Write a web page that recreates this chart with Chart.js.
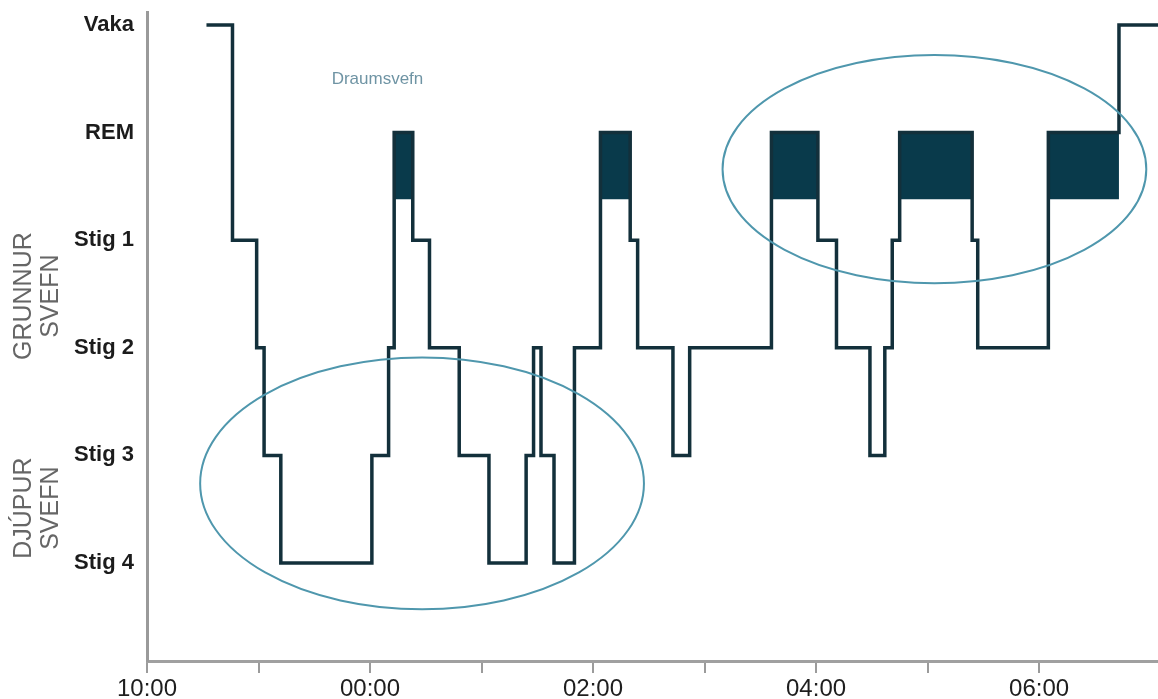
<!DOCTYPE html>
<html>
<head>
<meta charset="utf-8">
<script src="https://cdn.jsdelivr.net/npm/chart.js@4.4.1/dist/chart.umd.min.js"></script>
<style>
  html, body { margin: 0; padding: 0; background: #ffffff; }
  #wrap { width: 1158px; height: 699px; position: relative; }
</style>
</head>
<body>
<div id="wrap"><canvas id="c" width="1158" height="699"></canvas></div>
<script>
// ---- Data (minutes after 22:00, sleep stage level) ----
const stageLevels = [0, 1, 2, 3, 4, 5];
const stageLabels = ['Stig 4', 'Stig 3', 'Stig 2', 'Stig 1', 'REM', 'Vaka'];
const minutes = [32, 46, 59, 63, 72, 121, 130, 133, 143, 152, 168, 184, 204, 208, 212, 219, 230,
                 244, 260, 264, 283, 292, 336, 361, 371, 389, 397, 401, 405, 444, 447, 485, 523, 544];
const stages  = [5, 3, 2, 1, 0, 1, 2, 4, 3, 2, 1, 0, 1, 2, 1, 0, 2,
                 4, 3, 2, 1, 2, 4, 3, 2, 1, 2, 3, 4, 3, 2, 4, 5, 5];
const xTickValues = [0, 60, 120, 180, 240, 300, 360, 420, 480];
const xTickLabels = ['10:00', '', '00:00', '', '02:00', '', '04:00', '', '06:00'];
const remStage = 4;
const annotationText = 'Draumsvefn';
const groupLines = [['GRUNNUR', 'SVEFN'], ['DJÚPUR', 'SVEFN']];
const groupCenters = [2.48, 0.51];

// ---- Build datasets ----
const linePoints = minutes.map((m, i) => ({ x: m, y: stages[i] }));
const remDatasets = [];
for (let i = 0; i < stages.length - 1; i++) {
  if (stages[i] === remStage) {
    remDatasets.push({
      data: [{ x: minutes[i], y: remStage }, { x: minutes[i + 1], y: remStage }],
      borderWidth: 0,
      pointRadius: 0,
      backgroundColor: '#093a4b',
      fill: { value: remStage - 0.62 },
      order: 2
    });
  }
}

const ellipses = [
  { cx: 148, cy: 0.74, rx: 119.4, ry: 1.17 },
  { cx: 423.7, cy: 3.66, rx: 114, ry: 1.06 }
];

const overlay = {
  id: 'overlay',
  afterDatasetsDraw(chart) {
    const ctx = chart.ctx, xs = chart.scales.x, ys = chart.scales.y;
    ctx.save();
    ctx.strokeStyle = '#4f97ad';
    ctx.lineWidth = 2;
    ellipses.forEach(e => {
      const cx = xs.getPixelForValue(e.cx), cy = ys.getPixelForValue(e.cy);
      const rx = Math.abs(xs.getPixelForValue(e.cx + e.rx) - cx);
      const ry = Math.abs(ys.getPixelForValue(e.cy + e.ry) - cy);
      ctx.beginPath();
      ctx.ellipse(cx, cy, rx, ry, 0, 0, Math.PI * 2);
      ctx.stroke();
    });
    ctx.fillStyle = '#6f94a4';
    ctx.font = '17px "Liberation Sans", Arial, sans-serif';
    ctx.textAlign = 'center';
    ctx.textBaseline = 'middle';
    ctx.fillText(annotationText, xs.getPixelForValue(124), ys.getPixelForValue(4.49));
    ctx.restore();
  },
  afterDraw(chart) {
    const ctx = chart.ctx, ys = chart.scales.y;
    ctx.save();
    ctx.fillStyle = '#666666';
    ctx.font = '25px "Liberation Sans", Arial, sans-serif';
    ctx.textAlign = 'center';
    ctx.textBaseline = 'middle';
    groupLines.forEach((lines, gi) => {
      const yp = ys.getPixelForValue(groupCenters[gi]);
      lines.forEach((t, li) => {
        ctx.save();
        ctx.translate(24 + li * 27, yp);
        ctx.rotate(-Math.PI / 2);
        ctx.fillText(t, 0, 0);
        ctx.restore();
      });
    });
    ctx.restore();
  }
};

new Chart(document.getElementById('c'), {
  type: 'line',
  data: {
    datasets: [
      {
        data: linePoints,
        stepped: 'before',
        borderColor: '#13303b',
        borderWidth: 3.5,
        pointRadius: 0,
        fill: false,
        order: 0
      },
      ...remDatasets
    ]
  },
  options: {
    responsive: false,
    animation: false,
    layout: { padding: { top: 12, left: 0, right: 0, bottom: 0 } },
    plugins: { legend: { display: false }, tooltip: { enabled: false } },
    scales: {
      x: {
        type: 'linear',
        min: 0,
        max: 544,
        afterBuildTicks: s => { s.ticks = xTickValues.map(v => ({ value: v })); },
        afterFit: s => { s.height = 38; s.paddingLeft = 0; s.paddingRight = 0; },
        ticks: {
          autoSkip: false,
          maxRotation: 0,
          padding: 2,
          color: '#1e1e1e',
          font: { family: '"Liberation Sans", Arial, sans-serif', size: 24 },
          callback: (v) => { const i = xTickValues.indexOf(v); return i >= 0 ? xTickLabels[i] : ''; }
        },
        grid: { drawOnChartArea: false, drawTicks: true, tickLength: 12, color: '#9b9b9b', lineWidth: 2 },
        border: { display: true, color: '#a0a0a0', width: 3 }
      },
      y: {
        type: 'linear',
        min: -0.91,
        max: 5.12,
        afterBuildTicks: s => { s.ticks = stageLevels.map(v => ({ value: v })); },
        afterFit: s => { s.width = 147; s.paddingTop = 0; s.paddingBottom = 0; },
        ticks: {
          padding: 13,
          color: '#1c1c1c',
          font: { family: '"Liberation Sans", Arial, sans-serif', size: 22, weight: 'bold' },
          callback: (v) => { const i = stageLevels.indexOf(v); return i >= 0 ? stageLabels[i] : ''; }
        },
        grid: { display: true, drawOnChartArea: false, drawTicks: false },
        border: { display: true, color: '#9a9a9a', width: 3 }
      }
    }
  },
  plugins: [overlay]
});
</script>
</body>
</html>
